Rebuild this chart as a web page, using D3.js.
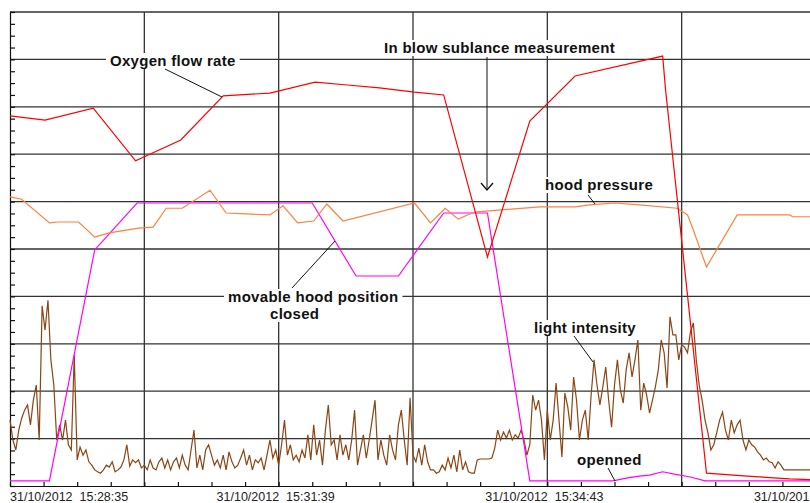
<!DOCTYPE html>
<html>
<head>
<meta charset="utf-8">
<script src="https://cdn.jsdelivr.net/npm/d3@7/dist/d3.min.js"></script>
<style>
body { margin: 0; background: #fff; }
svg { display: block; font-family: "Liberation Sans", Arial, sans-serif; }
.note { font-weight: bold; font-size: 15px; letter-spacing: 0.3px; fill: #111; }
.ticklab { font-size: 12.5px; fill: #222; white-space: pre; }
</style>
</head>
<body>
<div id="chart"></div>
<script>
// time origin of the record (seconds are counted from here)
var start = new Date(2012, 9, 31, 15, 28, 35);
var spanSec = 552;

// Oxygen flow rate (red)
var oxygenT = [0, 24, 57, 86, 117, 146, 178, 209, 231, 253, 277, 297, 327, 356, 387, 447, 449, 477, 505, 534, 552];
var oxygenV = [78.1, 77.2, 79.7, 68.6, 73.0, 82.3, 82.9, 85.2, 84.6, 84.0, 83.1, 82.5, 48.3, 77.0, 86.5, 90.7, 83.5, 2.7, 2.1, 1.5, 1.3];

// hood pressure (orange)
var pressT = [0, 8, 27, 33, 47, 58, 68, 88, 98, 107, 118, 137, 148, 162, 178, 187, 197, 208, 217, 228, 277, 288, 298, 307, 318, 363, 387, 397, 414, 431, 457, 464, 468, 477, 498, 534, 536, 552];
var pressV = [61.0, 60.5, 55.5, 55.7, 55.7, 52.5, 53.4, 54.4, 54.6, 58.6, 58.6, 62.4, 57.6, 57.4, 57.2, 59.1, 55.5, 55.9, 59.5, 55.9, 59.7, 55.5, 58.6, 56.3, 57.8, 58.9, 58.9, 59.3, 59.7, 59.3, 58.6, 57.2, 54.0, 46.2, 57.2, 57.2, 56.8, 56.8];

// movable hood position (magenta)
var hoodT = [0, 27, 58, 87, 207, 237, 266, 297, 327, 356, 413, 423, 431, 438, 447, 455, 466, 476, 552];
var hoodV = [1.1, 1.1, 49.8, 59.7, 59.7, 44.3, 44.3, 57.6, 57.6, 1.1, 1.1, 1.7, 2.1, 2.3, 3.0, 2.5, 1.9, 1.1, 1.1];

// light intensity (brown), one sample every 2 s
var lightStep = 2;
var lightV = [
  13.9, 9.7, 7.6, 11.8, 14.3, 16.0, 17.1, 12.9, 18.1, 21.3,
  9.7, 38.0, 32.9, 39.2, 26.6, 21.3, 9.7, 12.9, 9.7, 13.9,
  8.7, 7.6, 27.6, 5.5, 8.2, 6.5, 7.6, 5.1, 4.4, 3.4,
  3.0, 2.7, 3.4, 4.4, 4.0, 5.1, 3.0, 3.4, 4.0, 5.5,
  8.7, 4.2, 5.5, 4.9, 5.5,
  3.8, 4.4, 3.4, 5.5, 3.8, 3.4, 5.1, 5.9, 3.8, 5.5,
  3.4, 5.1, 5.9, 3.8, 6.5, 4.4, 3.4, 7.6, 11.8, 3.8,
  6.5, 3.4, 7.6, 8.7, 6.5, 4.4, 5.5, 3.8, 6.5, 3.4,
  7.2, 5.1, 3.8, 4.4, 5.9, 7.6, 4.4, 6.5, 3.4, 5.5,
  4.9, 5.9, 3.4, 6.5, 9.7,
  5.9, 7.6, 4.4, 8.7, 13.9, 6.5, 8.7, 5.5, 6.5, 5.1,
  7.6, 5.9, 10.8, 5.5, 12.9, 6.5, 9.7, 4.4, 11.8, 17.1,
  8.7, 9.7, 5.5, 10.8, 6.5, 8.7, 5.5, 9.7, 16.0, 4.4,
  7.6, 10.8, 5.9, 9.7, 13.9, 18.1, 5.5, 9.7, 6.5, 4.4,
  10.8, 7.6, 5.5, 12.9, 16.0, 9.7, 4.4, 18.6, 6.5, 5.1,
  8.0, 4.4, 8.7, 5.1, 3.4, 3.4, 2.7, 3.0, 4.4, 3.4,
  5.9, 3.8, 6.5, 3.0, 7.6, 3.4, 5.1, 3.0, 2.7, 2.7,
  5.5, 5.7, 5.7, 5.7, 5.7, 5.9, 8.0, 11.8, 9.7, 11.4,
  10.1, 11.8, 9.7, 10.8, 10.1, 11.8, 9.7, 6.5, 8.7, 19.2,
  16.0, 18.1,
  13.9, 5.5, 16.0, 9.7, 13.9, 21.7, 13.9, 6.1,
  19.6, 16.7, 11.8, 23.0, 18.1, 9.7, 13.9, 16.0, 9.7, 19.2,
  26.6, 21.3, 17.1, 20.9, 25.1, 18.1, 12.4, 21.3, 26.6, 20.3,
  17.5, 24.5, 28.1, 23.0, 26.6, 30.8, 16.0, 21.7, 19.2, 15.4,
  18.1, 20.9, 24.5, 30.8, 28.1, 20.7, 35.7, 31.9, 31.9, 26.6,
  29.8, 29.3, 28.1, 32.5, 34.4, 26.6, 21.3, 18.1, 13.9, 11.2,
  7.6, 8.7, 11.2, 13.9, 15.6, 11.8, 9.7, 13.9, 11.2, 12.9,
  13.9, 9.7, 7.6, 9.7, 8.7, 8.2, 7.2, 6.5, 5.5, 5.9,
  5.1, 4.9, 3.8, 5.1, 4.4, 3.4,
  3.4, 3.4, 3.4, 3.4, 3.4, 3.4, 3.4, 3.4, 3.4, 3.4
];

// axis ticks (seconds from start)
var labelSec = [0, 184, 368, 552];
var gridSec = [92, 184, 276, 368, 460, 552];
var gridVal = [10, 20, 30, 40, 50, 60, 70, 80, 90, 100];

var W = 810, H = 503;
var margin = {top: 12, left: 10, bottom: 17};
var plotRight = 816;  // the plot runs past the window edge

function toDate(s) { return new Date(+start + s * 1000); }

var svg = d3.select("#chart").append("svg").attr("width", W).attr("height", H);

var x = d3.scaleTime().domain([start, toDate(spanSec)]).range([margin.left, plotRight]);
var y = d3.scaleLinear().domain([0, 100]).range([H - margin.bottom, margin.top]);

// grid
svg.append("g").selectAll("line").data(gridVal).enter().append("line")
    .attr("x1", margin.left).attr("x2", plotRight)
    .attr("y1", function (d) { return y(d); }).attr("y2", function (d) { return y(d); })
    .attr("stroke", "#333").attr("stroke-width", 1.3);
svg.append("g").selectAll("line").data(gridSec).enter().append("line")
    .attr("x1", function (d) { return x(toDate(d)); }).attr("x2", function (d) { return x(toDate(d)); })
    .attr("y1", y(100)).attr("y2", y(0))
    .attr("stroke", "#333").attr("stroke-width", 1.3);

// minor ticks on the axes
var minorSec = d3.range(0, spanSec + 1, 23).map(toDate);
svg.append("g")
    .attr("transform", "translate(0," + y(0) + ")")
    .call(d3.axisBottom(x).tickValues(minorSec).tickSize(-4).tickSizeOuter(0).tickFormat(""))
    .call(function (g) {
        g.selectAll("line, path").attr("stroke", "#111").attr("stroke-width", 1.2);
    });
svg.append("g")
    .attr("transform", "translate(" + margin.left + ",0)")
    .call(d3.axisLeft(y).tickValues(d3.range(0, 100.1, 2.5)).tickSize(-5).tickSizeOuter(0).tickFormat(""))
    .call(function (g) {
        g.selectAll("line, path").attr("stroke", "#111").attr("stroke-width", 1.2);
    });

// time labels
var fmt = d3.timeFormat("%d/%m/%Y  %H:%M:%S");
svg.append("g").selectAll("text").data(labelSec).enter().append("text")
    .attr("class", "ticklab")
    .attr("x", function (d, i) { return i === 0 ? margin.left : x(toDate(d)) - 3; })
    .attr("y", 501)
    .attr("text-anchor", function (d, i) { return i === 0 ? "start" : "middle"; })
    .text(function (d) { return fmt(toDate(d)); });

// series
function pairs(ts, vs) {
    return ts.map(function (t, i) { return {t: t, v: vs[i]}; });
}
var line = d3.line()
    .x(function (d) { return x(toDate(d.t)); })
    .y(function (d) { return y(d.v); });

var lightData = lightV.map(function (v, i) { return {t: i * lightStep, v: v}; });

var series = [
    {data: lightData, color: "#8b4513"},
    {data: pairs(hoodT, hoodV), color: "#ff00ff"},
    {data: pairs(pressT, pressV), color: "#ff8040"},
    {data: pairs(oxygenT, oxygenV), color: "#ff0000"}
];
svg.append("g").selectAll("path").data(series).enter().append("path")
    .attr("d", function (d) { return line(d.data); })
    .attr("fill", "none")
    .attr("stroke", function (d) { return d.color; })
    .attr("stroke-width", 1.2);

// annotations
var notes = [
    {lines: [["Oxygen flow rate", 110, 66]], lead: [[165, 69], [222, 97]]},
    {lines: [["In blow sublance measurement", 384, 53]], lead: [[487, 57], [487, 190]], arrow: true},
    {lines: [["hood pressure", 545, 190]], lead: [[588, 195], [595, 204]]},
    {lines: [["movable hood position", 228, 302], ["closed", 270, 319]], lead: [[292, 288], [335, 241]]},
    {lines: [["light intensity", 534, 333]], lead: [[574, 336], [593, 362]]},
    {lines: [["openned", 577, 465]], lead: [[608, 468], [615, 481]]}
];

var ng = svg.append("g");
notes.forEach(function (n) {
    var g = ng.append("g");
    var bg = g.append("rect").attr("fill", "#fff");
    var texts = g.append("g");
    n.lines.forEach(function (l) {
        texts.append("text").attr("class", "note").attr("x", l[1]).attr("y", l[2]).text(l[0]);
    });
    var b = texts.node().getBBox();
    bg.attr("x", b.x - 4).attr("y", b.y + 1).attr("width", b.width + 8).attr("height", b.height - 1);
    g.append("path")
        .attr("d", d3.line()(n.lead))
        .attr("stroke", "#111").attr("stroke-width", 1).attr("fill", "none");
    if (n.arrow) {
        var e = n.lead[1];
        g.append("path")
            .attr("d", "M" + (e[0] - 6) + "," + (e[1] - 7) + "L" + e[0] + "," + e[1] + "L" + (e[0] + 6) + "," + (e[1] - 7))
            .attr("stroke", "#111").attr("stroke-width", 1.3).attr("fill", "none");
    }
    texts.raise();
});
</script>
</body>
</html>
